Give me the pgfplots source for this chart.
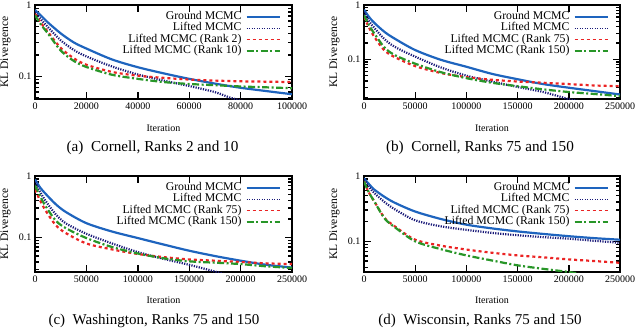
\documentclass[border=0pt]{standalone}
\usepackage{fontspec}
\setmainfont{Liberation Serif}
\usepackage{pgfplots}
\pgfplotsset{compat=1.18}
\definecolor{cblue}{HTML}{1E64BE}
\definecolor{cnavy}{HTML}{191978}
\definecolor{cred}{HTML}{EB2323}
\definecolor{cgreen}{HTML}{289628}
\pgfplotsset{
  legend image code/.code={\draw[#1, line width=1.3pt] (0pt,0pt) -- (33pt,0pt);},
  every axis/.append style={
    scale only axis, ymax=1, xmin=0,
    axis line style={line width=1.6pt},
    tick style={line width=1.4pt, black},
    major tick length=7pt, minor tick length=4pt,
    tick align=inside,
    scaled x ticks=false,
    x tick label style={/pgf/number format/fixed, /pgf/number format/1000 sep={}},
    tick label style={font=\fontsize{10}{12}\selectfont},
    xlabel={Iteration}, ylabel={KL Divergence},
    x label style={font=\fontsize{10}{12}\selectfont, at={([yshift=-32pt]axis description cs:0.5,0)}, anchor=base},
    y label style={font=\fontsize{11.5}{13}\selectfont, at={([xshift=-29.5pt]axis description cs:0,0.5)}, anchor=center},
    legend cell align=right, legend plot pos=right,
    legend style={at={(1,1)}, anchor=north east, xshift=-11.5pt, yshift=-6pt,
      draw=none, fill=none, inner sep=0pt, column sep=4pt, row sep=0pt,
      font=\fontsize{11.8}{13}\selectfont,
      nodes={inner sep=0.5pt, text height=7.8pt, text depth=2.6pt}},
  },
  grline/.style={color=cblue, solid, line width=2.2pt, smooth},
  liline/.style={color=cnavy, line width=2.2pt, dash pattern=on 1.2pt off 1.3pt, smooth},
  raline/.style={color=cred, line width=2.2pt, dash pattern=on 3pt off 3pt, smooth},
  rbline/.style={color=cgreen, line width=2.2pt, dash pattern=on 7pt off 2.5pt on 2pt off 2.5pt, smooth},
}
\begin{document}
\begin{tikzpicture}
\useasboundingbox (0pt,0pt) rectangle (640pt,327pt);
% (a)
\begin{axis}[ymode=log, /pgf/number format/assume math mode=true,
  ytick={0.1,1}, yticklabels={0.1,1},
  minor ytick={0.02,0.03,0.04,0.05,0.06,0.07,0.08,0.09,0.2,0.3,0.4,0.5,0.6,0.7,0.8,0.9},
  at={(35pt,228pt)}, anchor=south west, width=257pt, height=94pt,
  xmax=100000, ymin=0.048, xtick={0,20000,40000,60000,80000,100000}]
\addplot[grline] coordinates {(0,0.85)(2500,0.7)(5000,0.57)(10000,0.40)(15000,0.30)(20000,0.245)(30000,0.172)(40000,0.134)(50000,0.11)(60000,0.092)(70000,0.079)(80000,0.069)(90000,0.062)(100000,0.056)};
\addplot[liline] coordinates {(0,0.8)(2500,0.62)(5000,0.49)(10000,0.32)(15000,0.235)(20000,0.19)(30000,0.137)(40000,0.106)(50000,0.087)(60000,0.073)(70000,0.06)(76000,0.05)(82000,0.044)};
\addplot[raline] coordinates {(0,0.75)(2500,0.55)(5000,0.42)(10000,0.25)(15000,0.18)(20000,0.145)(30000,0.115)(40000,0.102)(50000,0.095)(60000,0.09)(70000,0.087)(80000,0.085)(90000,0.084)(100000,0.083)};
\addplot[rbline] coordinates {(0,0.72)(2500,0.52)(5000,0.4)(10000,0.23)(15000,0.165)(20000,0.135)(30000,0.105)(40000,0.092)(50000,0.083)(60000,0.078)(70000,0.075)(80000,0.072)(90000,0.07)(100000,0.068)};
\legend{Ground MCMC, Lifted MCMC, Lifted MCMC (Rank 2), Lifted MCMC (Rank 10)}
\end{axis}
% (b)
\begin{axis}[ymode=log, /pgf/number format/assume math mode=true,
  ytick={0.1,1}, yticklabels={0.1,1},
  minor ytick={0.02,0.03,0.04,0.05,0.06,0.07,0.08,0.09,0.2,0.3,0.4,0.5,0.6,0.7,0.8,0.9},
  at={(364pt,228pt)}, anchor=south west, width=256pt, height=94pt,
  xmax=250000, ymin=0.0186, xtick={0,50000,100000,150000,200000,250000}]
\addplot[grline] coordinates {(0,0.82)(5000,0.6)(10000,0.47)(20000,0.32)(30000,0.24)(50000,0.148)(75000,0.098)(100000,0.073)(125000,0.054)(150000,0.043)(175000,0.035)(200000,0.03)(225000,0.026)(250000,0.0225)};
\addplot[liline] coordinates {(0,0.75)(5000,0.5)(10000,0.38)(20000,0.235)(30000,0.17)(50000,0.112)(75000,0.071)(100000,0.05)(125000,0.039)(150000,0.031)(175000,0.025)(200000,0.0185)(210000,0.017)};
\addplot[raline] coordinates {(0,0.6)(5000,0.38)(10000,0.26)(20000,0.145)(30000,0.11)(50000,0.075)(75000,0.056)(100000,0.047)(125000,0.042)(150000,0.039)(175000,0.037)(200000,0.035)(225000,0.033)(250000,0.032)};
\addplot[rbline] coordinates {(0,0.65)(5000,0.42)(10000,0.3)(20000,0.165)(30000,0.12)(50000,0.083)(75000,0.058)(100000,0.045)(125000,0.037)(150000,0.032)(175000,0.028)(200000,0.025)(225000,0.023)(250000,0.021)};
\legend{Ground MCMC, Lifted MCMC, Lifted MCMC (Rank 75), Lifted MCMC (Rank 150)}
\end{axis}
% (c)
\begin{axis}[ymode=log, /pgf/number format/assume math mode=true,
  ytick={0.1,1}, yticklabels={0.1,1},
  minor ytick={0.02,0.03,0.04,0.05,0.06,0.07,0.08,0.09,0.2,0.3,0.4,0.5,0.6,0.7,0.8,0.9},
  at={(35pt,55pt)}, anchor=south west, width=257pt, height=96pt,
  xmax=250000, ymin=0.0275, xtick={0,50000,100000,150000,200000,250000},
  x label style={at={([yshift=-31.5pt]axis description cs:0.5,0)}}]
\addplot[grline] coordinates {(0,0.88)(5000,0.65)(10000,0.52)(20000,0.35)(30000,0.26)(50000,0.171)(75000,0.125)(100000,0.098)(125000,0.077)(150000,0.061)(175000,0.05)(200000,0.042)(225000,0.036)(250000,0.0325)};
\addplot[liline] coordinates {(0,0.8)(5000,0.55)(10000,0.4)(20000,0.24)(30000,0.17)(50000,0.115)(75000,0.08)(100000,0.058)(125000,0.045)(150000,0.036)(175000,0.028)(185000,0.025)};
\addplot[raline] coordinates {(0,0.6)(5000,0.4)(10000,0.28)(20000,0.16)(30000,0.118)(50000,0.08)(75000,0.064)(100000,0.054)(125000,0.048)(150000,0.044)(175000,0.042)(200000,0.04)(225000,0.038)(250000,0.037)};
\addplot[rbline] coordinates {(0,0.7)(5000,0.47)(10000,0.33)(20000,0.19)(30000,0.142)(50000,0.098)(75000,0.07)(100000,0.055)(125000,0.046)(150000,0.041)(175000,0.039)(200000,0.037)(225000,0.034)(250000,0.032)};
\legend{Ground MCMC, Lifted MCMC, Lifted MCMC (Rank 75), Lifted MCMC (Rank 150)}
\end{axis}
% (d)
\begin{axis}[ymode=log, /pgf/number format/assume math mode=true,
  ytick={0.1,1}, yticklabels={0.1,1},
  minor ytick={0.02,0.03,0.04,0.05,0.06,0.07,0.08,0.09,0.2,0.3,0.4,0.5,0.6,0.7,0.8,0.9},
  at={(364pt,55pt)}, anchor=south west, width=256pt, height=96pt,
  xmax=250000, ymin=0.034, xtick={0,50000,100000,150000,200000,250000},
  x label style={at={([yshift=-31.5pt]axis description cs:0.5,0)}}]
\addplot[grline] coordinates {(0,0.92)(5000,0.75)(10000,0.62)(20000,0.48)(30000,0.39)(50000,0.286)(75000,0.22)(100000,0.18)(125000,0.158)(150000,0.142)(175000,0.13)(200000,0.12)(225000,0.112)(250000,0.106)};
\addplot[liline] coordinates {(0,0.88)(5000,0.68)(10000,0.55)(20000,0.4)(30000,0.31)(50000,0.21)(75000,0.17)(100000,0.15)(125000,0.135)(150000,0.124)(175000,0.116)(200000,0.11)(225000,0.102)(250000,0.095)};
\addplot[raline] coordinates {(0,0.82)(5000,0.55)(10000,0.41)(20000,0.23)(30000,0.17)(50000,0.106)(75000,0.086)(100000,0.075)(125000,0.067)(150000,0.061)(175000,0.057)(200000,0.053)(225000,0.05)(250000,0.047)};
\addplot[rbline] coordinates {(0,0.82)(5000,0.55)(10000,0.41)(20000,0.225)(30000,0.165)(50000,0.1)(75000,0.076)(100000,0.061)(125000,0.051)(150000,0.043)(175000,0.038)(200000,0.034)(210000,0.032)};
\legend{Ground MCMC, Lifted MCMC, Lifted MCMC (Rank 75), Lifted MCMC (Rank 150)}
\end{axis}
% sub-captions
\node[anchor=base, font=\fontsize{15.2}{17}\selectfont] at (152.5pt,175.5pt) {(a)\hspace{0.5em}Cornell, Ranks 2 and 10};
\node[anchor=base, font=\fontsize{15.2}{17}\selectfont] at (480pt,175.5pt) {(b)\hspace{0.5em}Cornell, Ranks 75 and 150};
\node[anchor=base, font=\fontsize{15}{17}\selectfont] at (154pt,3pt) {(c)\hspace{0.5em}Washington, Ranks 75 and 150};
\node[anchor=base, font=\fontsize{15}{17}\selectfont] at (480pt,3pt) {(d)\hspace{0.5em}Wisconsin, Ranks 75 and 150};
\end{tikzpicture}
\end{document}
